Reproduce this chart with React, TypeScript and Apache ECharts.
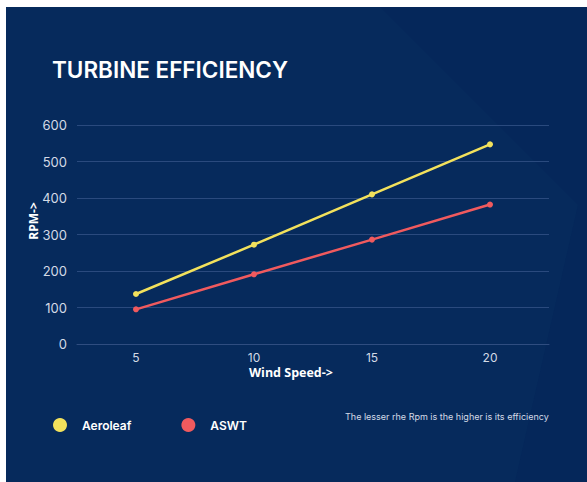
import React, { useEffect, useRef } from "react";
import * as echarts from "echarts";

const categories = ["5", "10", "15", "20"];
const aeroleaf = [137, 272, 410, 547];
const aswt = [95, 191, 286, 382];
const seriesNames = ["Aeroleaf", "ASWT"];
const title = "TURBINE EFFICIENCY";
const yName = "RPM->";
const xName = "Wind Speed->";
const note = "The lesser rhe Rpm is the higher is its efficiency";

export default function App() {
  const ref = useRef<HTMLDivElement>(null);
  useEffect(() => {
    if (!ref.current) return;
    const chart = echarts.init(ref.current, undefined, { renderer: "svg" });
    const font = "Inter, 'Noto Sans', sans-serif";
    const font2 = "'Open Sans', 'Noto Sans', sans-serif";
    chart.setOption({
      animation: false,
      backgroundColor: "#ffffff",
      textStyle: { fontFamily: font },
      graphic: [
        {
          type: "rect",
          z: -10,
          shape: { x: 6, y: 7, width: 581, height: 475 },
          style: { fill: "#062a5c" },
          silent: true,
        },
        {
          type: "polygon",
          z: -9,
          shape: { points: [[380, 7], [587, 7], [587, 482], [515, 482], [578, 205]] },
          style: { fill: "#05275a" },
          silent: true,
        },
        {
          type: "text",
          left: 52,
          top: 58,
          style: { text: title, fill: "#ffffff", font: `600 22.5px ${font}` },
        },
        {
          type: "text",
          x: 33,
          y: 221,
          rotation: Math.PI / 2,
          style: {
            text: yName,
            fill: "#ffffff",
            font: `700 12px ${font2}`,
            align: "center",
            verticalAlign: "middle",
          },
        },
        {
          type: "text",
          left: 249,
          top: 366,
          style: { text: xName, fill: "#ffffff", font: `700 12.5px ${font2}` },
        },
        {
          type: "text",
          left: 345,
          top: 412,
          style: { text: note, fill: "#d4dae6", font: `400 9px ${font}` },
        },
      ],
      legend: {
        left: 53,
        top: 418,
        padding: 0,
        icon: "circle",
        itemWidth: 14,
        itemHeight: 14,
        itemGap: 50,
        data: seriesNames,
        textStyle: {
          color: "#ffffff",
          fontWeight: 600,
          fontSize: 12,
          fontFamily: font,
          padding: [0, 0, 0, 10],
        },
      },
      grid: { left: 77, right: 38, top: 125, bottom: 138 },
      xAxis: {
        type: "category",
        data: categories,
        boundaryGap: true,
        axisLine: { show: true, lineStyle: { color: "#2f4d80", width: 1 } },
        axisTick: { show: false },
        axisLabel: { color: "#d4dae6", fontSize: 12, margin: 7 },
      },
      yAxis: {
        type: "value",
        min: 0,
        max: 600,
        interval: 100,
        axisLine: { show: false },
        axisTick: { show: false },
        splitLine: { lineStyle: { color: "#2a4a7e", width: 1 } },
        axisLabel: { color: "#d4dae6", fontSize: 13, margin: 10 },
      },
      series: [
        {
          name: seriesNames[0],
          type: "line",
          data: aeroleaf,
          color: "#f2e15c",
          symbol: "circle",
          symbolSize: 6,
          lineStyle: { width: 2.5, color: "#f2e15c" },
          itemStyle: { color: "#f2e15c" },
        },
        {
          name: seriesNames[1],
          type: "line",
          data: aswt,
          color: "#f05a5e",
          symbol: "circle",
          symbolSize: 6,
          lineStyle: { width: 2.5, color: "#f05a5e" },
          itemStyle: { color: "#f05a5e" },
        },
      ],
    });
    return () => chart.dispose();
  }, []);
  return (
    <div
      ref={ref}
      style={{ position: "fixed", left: 0, top: 0, width: 587, height: 482 }}
    />
  );
}
